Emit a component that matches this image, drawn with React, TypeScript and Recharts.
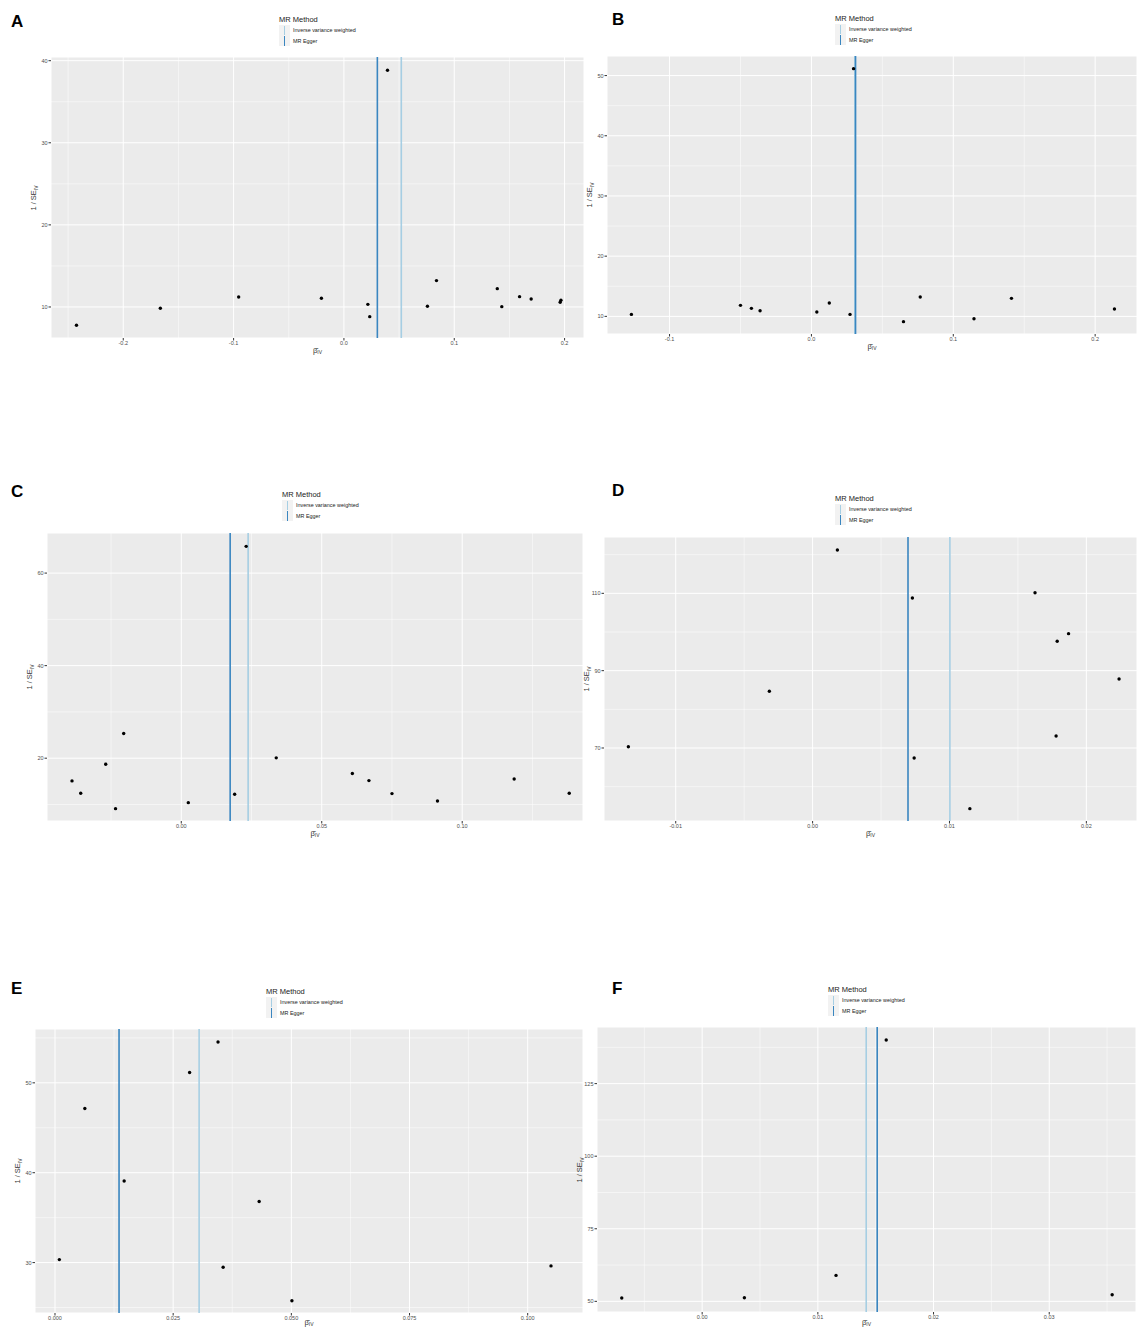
import React from 'react';
import {
  ScatterChart,
  Scatter,
  XAxis,
  YAxis,
  CartesianGrid,
  ReferenceLine,
} from 'recharts';

// ---- data ----
const aBeta = [-0.2424, -0.1664, -0.0954, -0.0204, 0.0217, 0.0234, 0.0395, 0.0757, 0.0839, 0.139, 0.1431, 0.1592, 0.1697, 0.196, 0.1967];
const aInvSe = [7.77, 9.84, 11.22, 11.06, 10.32, 8.82, 38.83, 10.08, 13.21, 12.23, 10.04, 11.26, 10.97, 10.57, 10.81];

const bBeta = [-0.1269, -0.05, -0.0423, -0.0362, 0.0038, 0.0126, 0.0272, 0.0297, 0.0649, 0.0767, 0.1146, 0.141, 0.2136];
const bInvSe = [10.33, 11.83, 11.33, 10.94, 10.72, 12.21, 10.33, 51.15, 9.12, 13.21, 9.61, 12.99, 11.22];

const cBeta = [-0.0389, -0.0358, -0.0269, -0.0234, -0.0205, 0.0025, 0.019, 0.0231, 0.0338, 0.0609, 0.0668, 0.075, 0.0912, 0.1185, 0.1381];
const cInvSe = [15.09, 12.42, 18.7, 9.1, 25.34, 10.4, 12.2, 65.78, 20.07, 16.68, 15.16, 12.35, 10.76, 15.52, 12.42];

const dBeta = [-0.01346, -0.00316, 0.00181, 0.00729, 0.00742, 0.01149, 0.01625, 0.01787, 0.0187, 0.01779, 0.02239];
const dInvSe = [70.34, 84.66, 121.2, 108.79, 67.41, 54.31, 110.17, 97.59, 99.57, 73.1, 87.84];

const eBeta = [0.00092, 0.00631, 0.01463, 0.02848, 0.03449, 0.03557, 0.04319, 0.05012, 0.10493];
const eInvSe = [30.33, 47.14, 39.07, 51.15, 54.54, 29.48, 36.8, 25.76, 29.63];

const fBeta = [-0.00695, 0.00365, 0.01157, 0.01591, 0.03544];
const fInvSe = [51.15, 51.26, 58.94, 140.02, 52.29];

// MR estimates (vertical lines)
const ivwEstimates = [0.052, 0.0306, 0.0238, 0.01003, 0.03049, 0.01418];
const eggerEstimates = [0.0303, 0.0311, 0.0174, 0.00697, 0.01355, 0.01513];

// axis ticks
const aXTicks = [-0.2, -0.1, 0, 0.1, 0.2];
const aYTicks = [10, 20, 30, 40];
const bXTicks = [-0.1, 0, 0.1, 0.2];
const bYTicks = [10, 20, 30, 40, 50];
const cXTicks = [0, 0.05, 0.1];
const cYTicks = [20, 40, 60];
const dXTicks = [-0.01, 0, 0.01, 0.02];
const dYTicks = [70, 90, 110];
const eXTicks = [0, 0.025, 0.05, 0.075, 0.1];
const eYTicks = [30, 40, 50];
const fXTicks = [0, 0.01, 0.02, 0.03];
const fYTicks = [50, 75, 100, 125];

const panelLabels = ['A', 'B', 'C', 'D', 'E', 'F'];
const legendTitle = 'MR Method';
const methodNames = ['Inverse variance weighted', 'MR Egger'];

const IVW_COLOR = '#a6cee3';
const EGGER_COLOR = '#3a86c0';
const FONT = '"Liberation Sans", Arial, Helvetica, sans-serif';
const PAGE_H = 1328;

const toPoints = (beta: number[], invSe: number[]) =>
  beta.map((b, i) => ({ beta: b, invSe: invSe[i] }));

interface PanelSpec {
  points: { beta: number; invSe: number }[];
  xTicks: number[];
  yTicks: number[];
  xMinor: number[];
  yMinor: number[];
  xDomain: [number, number];
  yDomain: [number, number];
  decimals: number;
  box: { left: number; top: number; right: number; bottom: number };
  legend: { left: number; top: number };
  label: { left: number; top: number };
}

const panels: PanelSpec[] = [
  {
    points: toPoints(aBeta, aInvSe), xTicks: aXTicks, yTicks: aYTicks,
    xMinor: [-0.25, -0.15, -0.05, 0.05, 0.15], yMinor: [15, 25, 35],
    xDomain: [-0.2655, 0.2176], yDomain: [6.22, 40.45], decimals: 1,
    box: { left: 51, top: 57, right: 584, bottom: 338 },
    legend: { left: 279, top: 15 }, label: { left: 11, top: 12 },
  },
  {
    points: toPoints(bBeta, bInvSe), xTicks: bXTicks, yTicks: bYTicks,
    xMinor: [-0.05, 0.05, 0.15], yMinor: [15, 25, 35, 45],
    xDomain: [-0.1441, 0.2295], yDomain: [7.07, 53.25], decimals: 1,
    box: { left: 607, top: 56, right: 1137, bottom: 334 },
    legend: { left: 835, top: 14 }, label: { left: 612, top: 10 },
  },
  {
    points: toPoints(cBeta, cInvSe), xTicks: cXTicks, yTicks: cYTicks,
    xMinor: [-0.025, 0.025, 0.075, 0.125], yMinor: [10, 30, 50],
    xDomain: [-0.0478, 0.143], yDomain: [6.43, 68.66], decimals: 2,
    box: { left: 47, top: 533, right: 583, bottom: 821 },
    legend: { left: 282, top: 490 }, label: { left: 11, top: 482 },
  },
  {
    points: toPoints(dBeta, dInvSe), xTicks: dXTicks, yTicks: dYTicks,
    xMinor: [-0.005, 0.005, 0.015], yMinor: [60, 80, 100, 120],
    xDomain: [-0.01524, 0.0237], yDomain: [51.12, 124.57], decimals: 2,
    box: { left: 604, top: 537, right: 1137, bottom: 821 },
    legend: { left: 835, top: 494 }, label: { left: 612, top: 481 },
  },
  {
    points: toPoints(eBeta, eInvSe), xTicks: eXTicks, yTicks: eYTicks,
    xMinor: [0.0125, 0.0375, 0.0625, 0.0875], yMinor: [25, 35, 45, 55],
    xDomain: [-0.00423, 0.1117], yDomain: [24.39, 55.99], decimals: 3,
    box: { left: 35, top: 1029, right: 583, bottom: 1313 },
    legend: { left: 266, top: 987 }, label: { left: 11, top: 979 },
  },
  {
    points: toPoints(fBeta, fInvSe), xTicks: fXTicks, yTicks: fYTicks,
    xMinor: [-0.005, 0.005, 0.015, 0.025, 0.035], yMinor: [62.5, 87.5, 112.5, 137.5],
    xDomain: [-0.00909, 0.0375], yDomain: [46.33, 144.5], decimals: 2,
    box: { left: 597, top: 1027, right: 1136, bottom: 1312 },
    legend: { left: 828, top: 985 }, label: { left: 612, top: 979 },
  },
];

const AXIS_W = 30;
const AXIS_H = 20;

const Dot = (props: any) => <circle cx={props.cx} cy={props.cy} r={1.7} fill="#000" />;

function Legend({ left, top }: { left: number; top: number }) {
  const colors = [IVW_COLOR, EGGER_COLOR];
  return (
    <div style={{ position: 'absolute', left, top, fontFamily: FONT }}>
      <div style={{ fontSize: 7.5, color: '#222', lineHeight: '10px' }}>{legendTitle}</div>
      {methodNames.map((name, i) => (
        <div key={name} style={{ display: 'flex', alignItems: 'center', height: 10.5 }}>
          <div style={{ width: 11, height: 10.5, background: '#F2F2F2', position: 'relative' }}>
            <div style={{ position: 'absolute', left: 5, top: 0.5, width: 1.3, height: 9.5, background: colors[i] }} />
          </div>
          <span style={{ fontSize: 5.4, color: '#222', marginLeft: 3 }}>{name}</span>
        </div>
      ))}
    </div>
  );
}

function FunnelPanel({ spec, idx }: { spec: PanelSpec; idx: number }) {
  const { box } = spec;
  const width = box.right - box.left + AXIS_W;
  const height = box.bottom - box.top + AXIS_H;
  const midX = (box.left + box.right) / 2;
  const midY = (box.top + box.bottom) / 2;
  const xTitleTop = Math.min(box.bottom + 8, PAGE_H - 10);
  return (
    <>
      <div style={{ position: 'absolute', left: spec.label.left, top: spec.label.top, fontFamily: FONT, fontWeight: 700, fontSize: 17, color: '#000' }}>
        {panelLabels[idx]}
      </div>
      <Legend left={spec.legend.left} top={spec.legend.top} />
      <div style={{ position: 'absolute', left: box.left - AXIS_W, top: box.top }}>
        <ScatterChart width={width} height={height} margin={{ top: 0, right: 0, bottom: 0, left: 0 }}>
          <CartesianGrid fill="#EBEBEB" fillOpacity={1} stroke="#FFFFFF" strokeWidth={1} />
          {spec.xMinor.map((v) => (
            <ReferenceLine key={`xm${v}`} x={v} stroke="#FFFFFF" strokeWidth={0.5} />
          ))}
          {spec.yMinor.map((v) => (
            <ReferenceLine key={`ym${v}`} y={v} stroke="#FFFFFF" strokeWidth={0.5} />
          ))}
          <XAxis
            type="number"
            dataKey="beta"
            domain={spec.xDomain}
            allowDataOverflow
            ticks={spec.xTicks}
            interval={0}
            height={AXIS_H}
            tickFormatter={(v: number) => v.toFixed(spec.decimals)}
            tick={{ fontSize: 5.5, fill: '#4D4D4D', fontFamily: FONT }}
            tickSize={2.5}
            tickMargin={1}
            tickLine={{ stroke: '#333' }}
            axisLine={false}
          />
          <YAxis
            type="number"
            dataKey="invSe"
            domain={spec.yDomain}
            allowDataOverflow
            ticks={spec.yTicks}
            interval={0}
            width={AXIS_W}
            tick={{ fontSize: 5.5, fill: '#4D4D4D', fontFamily: FONT }}
            tickSize={2.5}
            tickMargin={1}
            tickLine={{ stroke: '#333' }}
            axisLine={false}
          />
          <ReferenceLine x={ivwEstimates[idx]} stroke={IVW_COLOR} strokeWidth={1.6} />
          <ReferenceLine x={eggerEstimates[idx]} stroke={EGGER_COLOR} strokeWidth={1.6} />
          <Scatter data={spec.points} shape={Dot} isAnimationActive={false} />
        </ScatterChart>
      </div>
      {/* axis titles */}
      <div style={{ position: 'absolute', left: midX - 20, width: 40, top: xTitleTop, textAlign: 'center', fontFamily: FONT, fontSize: 7.5, color: '#333', lineHeight: '9px' }}>
        {'\u03B2\u0302'}<span style={{ fontSize: 5, verticalAlign: -1 }}>IV</span>
      </div>
      <div style={{ position: 'absolute', left: box.left - 17 - 20, top: midY - 5, width: 40, height: 10, textAlign: 'center', transform: 'rotate(-90deg)', fontFamily: FONT, fontSize: 7.5, color: '#333', lineHeight: '10px', whiteSpace: 'nowrap' }}>
        1 / SE<span style={{ fontSize: 5, verticalAlign: -2 }}>IV</span>
      </div>
    </>
  );
}

export default function App() {
  return (
    <div style={{ position: 'absolute', left: 0, top: 0, width: 1137, height: 1328, background: '#fff', overflow: 'hidden' }}>
      {panels.map((p, i) => (
        <FunnelPanel key={panelLabels[i]} spec={p} idx={i} />
      ))}
    </div>
  );
}
